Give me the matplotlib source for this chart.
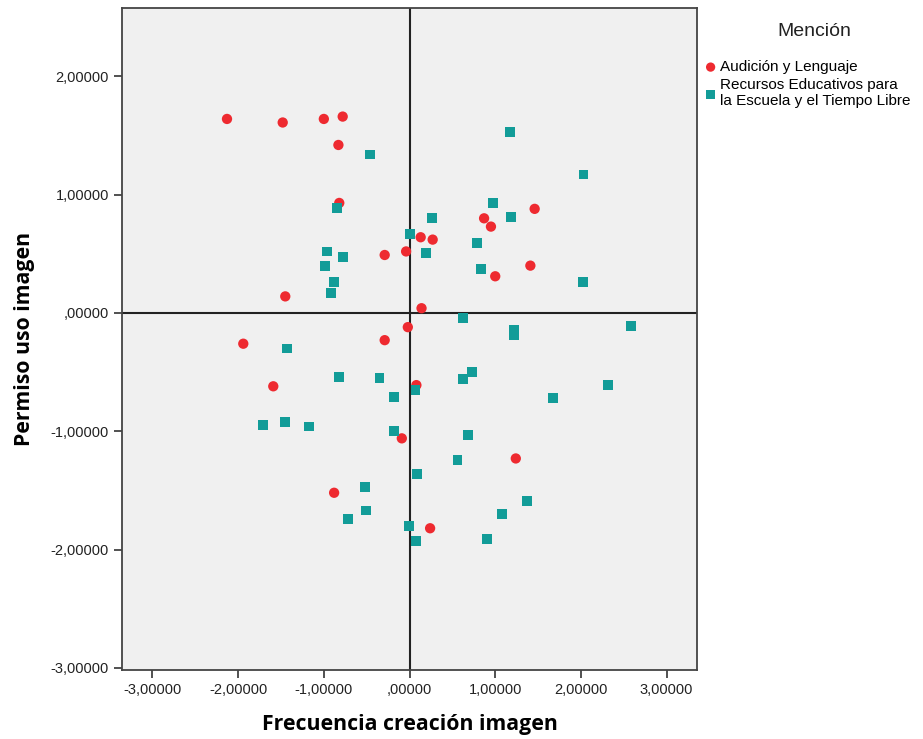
import matplotlib
matplotlib.use("Agg")
import matplotlib.pyplot as plt
from matplotlib.ticker import FuncFormatter, MultipleLocator

plt.rcParams['font.family'] = ['Liberation Sans', 'DejaVu Sans']

# Data
al_x = [-2.13, -1.48, -1.00, -0.78, -0.83, -0.82, -0.29, -0.04, -1.45,
        1.46, 0.87, 0.95, 0.13, 0.27, 1.41, 1.00, 0.14,
        -1.94, -0.29, -0.02, -1.59, -0.09, -0.88, 0.08, 1.24, 0.24]
al_y = [1.64, 1.61, 1.64, 1.66, 1.42, 0.93, 0.49, 0.52, 0.14,
        0.88, 0.80, 0.73, 0.64, 0.62, 0.40, 0.31, 0.04,
        -0.26, -0.23, -0.12, -0.62, -1.06, -1.52, -0.61, -1.23, -1.82]

re_x = [-0.46, -0.85, 0.01, -0.96, -0.78, -0.99, -0.88, -0.92,
        1.17, 2.03, 0.97, 0.26, 1.18, 0.19, 0.79, 0.83, 2.02,
        -1.43, -0.82, -0.35, -0.18, 0.07, -1.71, -1.45, -1.17, -0.18, 0.09,
        -0.52, -0.51, -0.72, -0.01, 0.08,
        0.62, 1.22, 1.22, 2.58, 0.73, 0.62, 2.32, 1.67, 0.68, 0.56, 1.37, 1.08, 0.90]
re_y = [1.34, 0.89, 0.67, 0.52, 0.47, 0.40, 0.26, 0.17,
        1.53, 1.17, 0.93, 0.80, 0.81, 0.51, 0.59, 0.37, 0.26,
        -0.30, -0.54, -0.55, -0.71, -0.65, -0.95, -0.92, -0.96, -1.00, -1.36,
        -1.47, -1.67, -1.74, -1.80, -1.93,
        -0.04, -0.14, -0.19, -0.11, -0.50, -0.56, -0.61, -0.72, -1.03, -1.24, -1.59, -1.70, -1.91]

series_names = ["Audición y Lenguaje", "Recursos Educativos para\nla Escuela y el Tiempo Libre"]
legend_title = "Mención"
x_label = "Frecuencia creación imagen"
y_label = "Permiso uso imagen"

fig = plt.figure(figsize=(9.23, 7.39), dpi=100)
ax = fig.add_axes([0.1322, 0.0934, 0.7552 - 0.1322, 0.9892 - 0.0934])
ax.set_facecolor('#F0F0F0')

ax.axhline(0, color='#222222', lw=1.5, zorder=1)
ax.axvline(0, color='#222222', lw=1.5, zorder=1)

ax.scatter(al_x, al_y, s=55, marker='o', color='#EE2A30', edgecolors='none', label=series_names[0], zorder=3)
ax.scatter(re_x, re_y, s=50, marker='s', color='#129C98', edgecolors='none', label=series_names[1], zorder=3)

ax.set_xlim(-3.355, 3.355)
ax.set_ylim(-3.018, 2.578)
ax.xaxis.set_major_locator(MultipleLocator(1))
ax.yaxis.set_major_locator(MultipleLocator(1))

def fmt(v, pos):
    if abs(v) < 1e-9:
        return ",00000"
    return f"{v:.5f}".replace('.', ',')

ax.xaxis.set_major_formatter(FuncFormatter(fmt))
ax.yaxis.set_major_formatter(FuncFormatter(fmt))
ax.tick_params(axis='both', direction='out', length=6, width=1.2, color='#333333', labelsize=10.5, labelcolor='#222222')
for sp in ax.spines.values():
    sp.set_color('#444444')
    sp.set_linewidth(1.3)

ax.set_xlabel(x_label, fontsize=15.3, fontweight='bold', labelpad=12, family=['Open Sans', 'DejaVu Sans'])
ax.set_ylabel(y_label, fontsize=15.3, fontweight='bold', labelpad=11, family=['Open Sans', 'DejaVu Sans'])

fig.text(814 / 923, 1 - 32 / 739, legend_title, ha='center', va='center', fontsize=14, color='#222222')
leg = fig.legend(loc='upper left', bbox_to_anchor=(0.755, 1 - 54 / 739), frameon=False,
                 fontsize=11, handletextpad=0.1, handlelength=1.0, borderaxespad=0,
                 labelspacing=0.25, markerscale=0.9)

fig.savefig('out.png', dpi=100, facecolor='white')
